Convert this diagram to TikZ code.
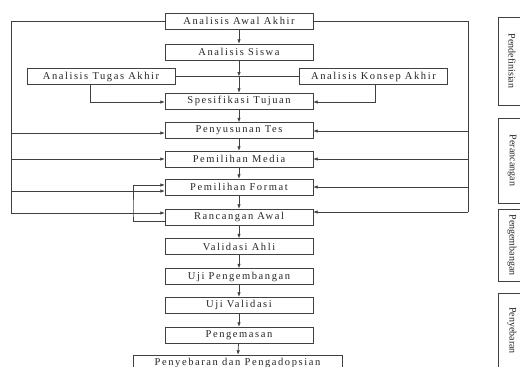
\documentclass[tikz,border=0pt]{standalone}
\usepackage{fontspec}
\setmainfont{Liberation Serif}
\newfontfamily\spacedfont[LetterSpace=15]{Liberation Serif}
\usetikzlibrary{arrows.meta,positioning,calc}

\begin{document}
\begin{tikzpicture}[x=1pt,y=-1pt,>={Latex[length=4.5pt,width=3.5pt]},
  box/.style={draw=black!75,minimum width=148pt,minimum height=16pt,inner sep=0pt,font=\spacedfont\fontsize{10.5}{12}\selectfont,text=black!85},
  phase/.style={draw=black!75,rotate=-90,minimum height=28pt,inner sep=0pt,font=\fontsize{10}{12}\selectfont,text=black!85},
  ln/.style={black!75,line width=0.7pt}]
\clip (0,0) rectangle (520,367);
% main chain
\node[box] (awal) at (239,21) {Analisis Awal Akhir};
\node[box] (siswa) at (239,52) {Analisis Siswa};
\node[box] (tugas) at (101,76.5) {Analisis Tugas Akhir};
\node[box] (konsep) at (373.5,76.5) {Analisis Konsep Akhir};
\node[box] (spes) at (239,101) {Spesifikasi Tujuan};
\node[box] (tes) at (239,130.5) {Penyusunan Tes};
\node[box] (media) at (239,159) {Pemilihan Media};
\node[box] (format) at (239,187) {Pemilihan Format};
\node[box] (awalr) at (239,217) {Rancangan Awal};
\node[box] (ahli) at (239,246.5) {Validasi Ahli};
\node[box] (ujipeng) at (239,276.5) {Uji Pengembangan};
\node[box] (ujival) at (239,305) {Uji Validasi};
\node[box] (kemas) at (239,335) {Pengemasan};
\node[box,minimum width=209pt] (sebar) at (237.5,363) {Penyebaran dan Pengadopsian};
% phases on the right
\node[phase,minimum width=88pt] (p1) at (512,61) {Pendefinisian};
\node[phase,minimum width=85pt] (p2) at (512,160.5) {Perancangan};
\node[phase,minimum width=72pt] (p3) at (512,245) {Pengembangan};
\node[phase,minimum width=75pt] (p4) at (512,330.5) {Penyebaran};
\coordinate (j) at (239,76.5);
\coordinate (lft) at (11,21);
\coordinate (rgt) at (468,21);
\coordinate (lp) at (133,213);

\draw[ln,->] (awal) -- (siswa);
\draw[ln,->] (siswa) -- (j);
\draw[ln] (tugas) -- (konsep);
\draw[ln,->] (j) -- (spes);
\draw[ln,->] ([xshift=-11pt]tugas.south) |- ([yshift=-1pt]spes.west);
\draw[ln,->] ([xshift=1.5pt]konsep.south) |- ([yshift=-1pt]spes.east);
\draw[ln,->] (spes) -- (tes);
\draw[ln,->] (tes) -- (media);
\draw[ln,->] (media) -- (format);
\draw[ln,->] (format) -- (awalr);
\draw[ln,->] (awalr) -- (ahli);
\draw[ln,->] (ahli) -- (ujipeng);
\draw[ln,->] (ujipeng) -- (ujival);
\draw[ln,->] (ujival) -- (kemas);
\draw[ln,->] (kemas) -- (sebar);
% feedback on the left
\draw[ln] (awal.west) -- (lft) -- ([yshift=4pt]awalr.west -| lft);
\draw[ln,->] ([yshift=-2.5pt]tes.west -| lft) -- ([yshift=-2.5pt]tes.west);
\draw[ln,->] (media.west -| lft) -- (media.west);
\draw[ln,->] ([yshift=-4pt]format.west -| lft) -- ([yshift=-4pt]format.west);
\draw[ln,->] ([yshift=4pt]awalr.west -| lft) -- ([yshift=4pt]awalr.west);
\draw[ln,->] ([yshift=-4pt]awalr.west) -| (lp) |- ([yshift=2pt]format.west);
% feedback on the right
\draw[ln] (awal.east) -- (rgt) -- ([yshift=5pt]awalr.east -| rgt);
\draw[ln,->] ([yshift=-0.5pt]tes.east -| rgt) -- ([yshift=-0.5pt]tes.east);
\draw[ln,->] (media.east -| rgt) -- (media.east);
\draw[ln,->] (format.east -| rgt) -- (format.east);
\draw[ln,->] ([yshift=5pt]awalr.east -| rgt) -- ([yshift=5pt]awalr.east);
\end{tikzpicture}
\end{document}
